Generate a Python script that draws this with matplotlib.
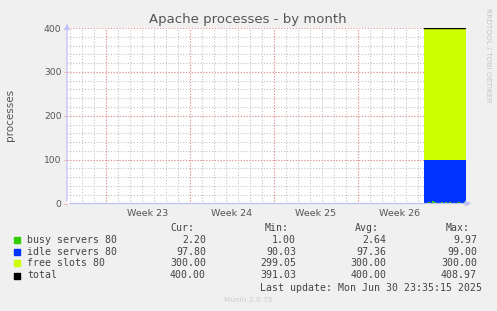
import matplotlib
matplotlib.use("Agg")
import matplotlib.pyplot as plt
import numpy as np

# data (x in days from the left edge of the graph, 4h samples)
busy = [2.2, 1.0, 3.1, 2.0, 4.8, 2.3, 1.2, 2.0, 3.0, 2.1, 2.4, 1.1, 4.0, 2.2, 1.3, 2.0, 3.2, 2.1, 1.4, 2.3, 2.2]
idle = [97.8, 99.0, 96.9, 98.0, 95.2, 97.7, 98.8, 98.0, 97.0, 97.9, 97.6, 98.9, 96.0, 97.8, 98.7, 98.0, 96.8, 97.9, 98.6, 97.7, 97.8]
free = [300.0] * 21
t_start = 29.72
t_step = 3.53 / 20

week_labels = ["Week 23", "Week 24", "Week 25", "Week 26"]
week_lines = [3.25, 10.25, 17.25, 24.25, 31.25]

legend_names = ["busy servers 80", "idle servers 80", "free slots 80", "total"]
legend_colors = ["#33cc00", "#0033ff", "#ccff00", "#000000"]
cur = ["2.20", "97.80", "300.00", "400.00"]
mins = ["1.00", "90.03", "299.05", "391.03"]
avgs = ["2.64", "97.36", "300.00", "400.00"]
maxs = ["9.97", "99.00", "300.00", "408.97"]

W, H = 497, 311
fig = plt.figure(figsize=(W / 100, H / 100), dpi=100, facecolor="#f0f0f0")
ax = fig.add_axes([67 / W, (H - 203.5) / H, 399 / W, 175.5 / H])
ax.set_facecolor("white")

t = t_start + t_step * np.arange(len(busy))
b = np.array(busy)
i = b + np.array(idle)
f = i + np.array(free)
ax.fill_between(t, 0, b, step="post", color=legend_colors[0], lw=0, zorder=3)
ax.fill_between(t, b, i, step="post", color=legend_colors[1], lw=0, zorder=3)
ax.fill_between(t, i, f, step="post", color=legend_colors[2], lw=0, zorder=3)
ax.step(t, f, where="post", color="black", lw=1, zorder=4)

x_end = 399 / 12
ax.set_xlim(0, x_end)
ax.set_ylim(0, 400)

# grid
gdots = (0, (1, 1.6))
for d in np.arange(0.25, x_end, 1.0):
    ax.axvline(d, color="#c4c4c4", lw=0.8, ls=gdots, zorder=1)
for y in range(20, 400, 20):
    ax.axhline(y, color="#c4c4c4", lw=0.8, ls=gdots, zorder=1)
for d in week_lines:
    ax.axvline(d, color="#f09090", lw=0.8, ls=gdots, zorder=2)
for y in range(100, 401, 100):
    ax.axhline(y, color="#f09090", lw=0.8, ls=gdots, zorder=2)

for s in ax.spines.values():
    s.set_visible(False)
ax.set_yticks([0, 100, 200, 300, 400])
ax.tick_params(axis="y", length=2, width=0.6, color="#f09a9a", labelsize=6.6,
               labelcolor="#555555", pad=2)
ax.set_xticks([(week_lines[k] + week_lines[k + 1]) / 2 for k in range(4)])
ax.set_xticklabels(week_labels)
ax.tick_params(axis="x", length=0, labelsize=6.8, labelcolor="#555555", pad=4)

# axes with arrows
axc = "#c0c0f8"
ax.annotate("", xy=(0, 1.04), xytext=(0, 0), xycoords="axes fraction",
            arrowprops=dict(arrowstyle="-|>", color=axc, lw=0.9, mutation_scale=8), zorder=5)
ax.annotate("", xy=(1.02, 0), xytext=(0, 0), xycoords="axes fraction",
            arrowprops=dict(arrowstyle="-|>", color=axc, lw=0.9, mutation_scale=8), zorder=5)

fig.text(248 / W, 1 - 19 / H, "Apache processes - by month", ha="center", va="center",
         fontsize=9.5, color="#555555")
fig.text(10 / W, 1 - 115 / H, "processes", rotation=90, ha="center", va="center",
         fontsize=7.5, color="#555555")
fig.text(488 / W, 1 - 55 / H, "RRDTOOL / TOBI OETIKER", rotation=270, ha="center",
         va="center", fontsize=5.3, color="#c4c4c4")
fig.text(248 / W, 1 - 299.5 / H, "Munin 2.0.75", ha="center", va="center",
         fontsize=5.3, color="#cccccc")

# legend
mono = dict(family="DejaVu Sans Mono", fontsize=7.1, color="#444444", va="center")
hdr_y = 227.7
for x, s in [(194, "Cur:"), (289, "Min:"), (379, "Avg:"), (470, "Max:")]:
    fig.text(x / W, 1 - hdr_y / H, s, ha="right", **mono)
rows = [240, 251.7, 263.3, 275.5]
for k, y in enumerate(rows):
    fig.patches.append(plt.Rectangle((14 / W, 1 - (y + 3) / H), 6 / W, 6 / H,
                                     transform=fig.transFigure, color=legend_colors[k]))
    fig.text(27 / W, 1 - y / H, legend_names[k], ha="left", **mono)
    fig.text(206 / W, 1 - y / H, cur[k], ha="right", **mono)
    fig.text(296 / W, 1 - y / H, mins[k], ha="right", **mono)
    fig.text(386.5 / W, 1 - y / H, avgs[k], ha="right", **mono)
    fig.text(477 / W, 1 - y / H, maxs[k], ha="right", **mono)
fig.text(482 / W, 1 - 287.7 / H, "Last update: Mon Jun 30 23:35:15 2025", ha="right", **mono)

fig.savefig("out.png", dpi=100, facecolor=fig.get_facecolor())
